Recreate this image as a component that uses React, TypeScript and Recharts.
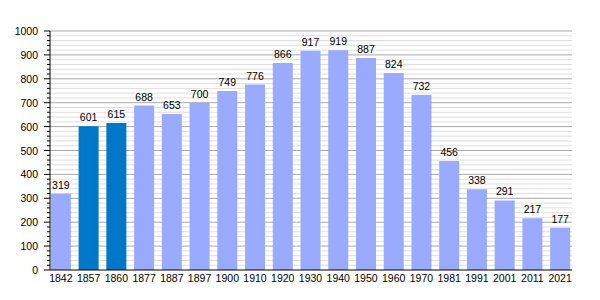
import React from "react";
import { BarChart, Bar, XAxis, YAxis, CartesianGrid, LabelList, Cell } from "recharts";

const years = ["1842","1857","1860","1877","1887","1897","1900","1910","1920","1930","1940","1950","1960","1970","1981","1991","2001","2011","2021"];
const population = [319,601,615,688,653,700,749,776,866,917,919,887,824,732,456,338,291,217,177];
const highlighted = ["1857","1860"];
const yTicks = [0,20,40,60,80,100,120,140,160,180,200,220,240,260,280,300,320,340,360,380,400,420,440,460,480,500,520,540,560,580,600,620,640,660,680,700,720,740,760,780,800,820,840,860,880,900,920,940,960,980,1000];

const data = years.map((y, i) => ({ year: y, value: population[i] }));

const TOP = 31;
const BOTTOM = 270;
const FONT = "'Liberation Sans', Arial, sans-serif";
const FS = 10.5;

const YTick = (props: any) => {
  const { x, y, payload } = props;
  const v = payload.value;
  const major = v % 100 === 0;
  return (
    <g>
      <line x1={x - (major ? 6 : 3)} x2={x} y1={y} y2={y} stroke="#000" strokeWidth={1} />
      {major && (
        <text x={x - 12} y={y} textAnchor="end" dominantBaseline="central" fontSize={FS} fill="#000" fontFamily={FONT}>
          {v}
        </text>
      )}
    </g>
  );
};

const GridLine = (props: any) => {
  const { x1, x2, y1 } = props;
  const val = Math.round(((BOTTOM - y1) / (BOTTOM - TOP)) * 50);
  const major = val % 5 === 0;
  if (val === 0) return <g />;
  return <line x1={x1} x2={x2} y1={y1} y2={y1} stroke={major ? "#a8a8a8" : "#dedede"} strokeWidth={1} />;
};

export default function App() {
  return (
    <div style={{ position: "absolute", left: 0, top: 0, background: "#fff" }}>
      <BarChart width={600} height={300} data={data} margin={{ top: TOP, right: 28, bottom: 0, left: 0 }} barCategoryGap="14%">
        <CartesianGrid vertical={false} horizontal={GridLine as any} />
        <XAxis
          dataKey="year"
          tickLine={false}
          tickSize={5}
          axisLine={{ stroke: "#000", strokeWidth: 1 }}
          tick={{ fontSize: FS, fill: "#000", fontFamily: FONT }}
          tickMargin={0}
          interval={0}
          height={300 - BOTTOM}
          padding={{ left: -3, right: -2 }}
        />
        <YAxis
          domain={[0, 1000]}
          ticks={yTicks}
          interval={0}
          width={50}
          tickSize={0}
          tickMargin={0}
          tickLine={false}
          axisLine={{ stroke: "#000", strokeWidth: 1 }}
          tick={<YTick />}
          allowDataOverflow
        />
        <Bar dataKey="value" isAnimationActive={false}>
          {data.map((d) => (
            <Cell key={d.year} fill={highlighted.includes(d.year) ? "#0077c8" : "#99aaff"} />
          ))}
          <LabelList dataKey="value" position="top" offset={5} style={{ fontSize: FS, fill: "#000", fontFamily: FONT }} />
        </Bar>
      </BarChart>
    </div>
  );
}
